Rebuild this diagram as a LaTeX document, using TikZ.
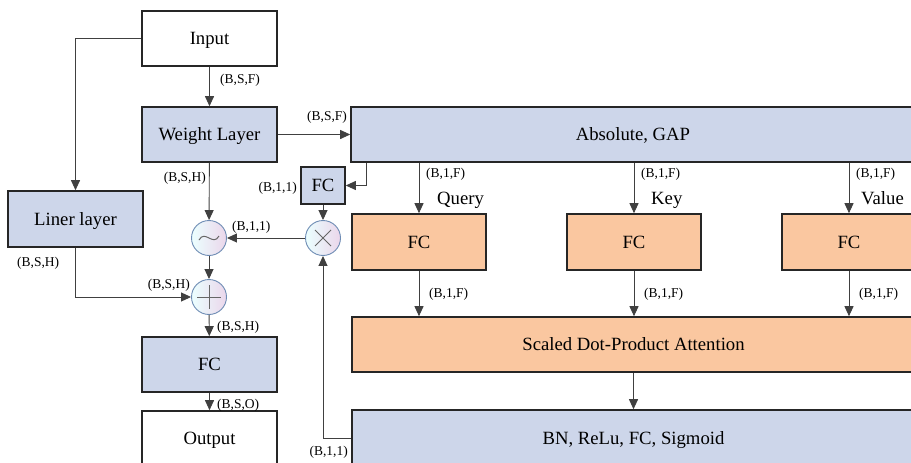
\documentclass[tikz,border=0pt]{standalone}
\usepackage{fontspec}
\setmainfont{Liberation Serif}
\usetikzlibrary{calc,arrows.meta}

\definecolor{layerblue}{RGB}{205,214,234}
\definecolor{attnorange}{RGB}{250,199,160}
\definecolor{opedge}{RGB}{110,140,180}

\begin{document}
\begin{tikzpicture}[
  x=1pt,y=-1pt,
  big text/.style={font=\rmfamily\fontsize{18.7}{22}\selectfont,text height=12.4pt,text depth=0pt},
  box/.style={big text,draw=black!85,line width=1.6pt,inner sep=0pt,minimum width=135pt,
    minimum height=55pt},
  blue box/.style={box,fill=layerblue},
  orange box/.style={box,fill=attnorange},
  op/.style={circle,draw=opedge,line width=0.9pt,minimum size=35pt,inner sep=0pt,
    left color=cyan!8,right color=violet!16},
  opsym/.style={draw=black!60,line width=1pt},
  flow/.style={draw=black!75,line width=0.9pt,-{Triangle[length=10pt,width=9pt]}},
  dims/.style={font=\rmfamily\fontsize{13.5}{16}\selectfont,inner sep=0pt},
  ]

  \useasboundingbox (0,0) rectangle (911,463);
  \clip (0,0) rectangle (911,463);

  % main path
  \node[box]      (input)  at (209.5,38.5)  {Input};
  \node[blue box] (weight) at (209.5,134.5) {Weight Layer};
  \node[blue box,minimum height=56pt] (liner) at (75.5,219) {Liner layer};
  \node[op]       (tilde)  at (209,238) {};
  \node[op]       (plus)   at (209,297) {};
  \node[blue box] (fcout)  at (209.5,364.5) {FC};
  \node[box]      (output) at (209.5,438.5) {Output};

  % attention branch
  \node[blue box,minimum width=564pt] (gap) at (633,134.5) {Absolute, GAP};
  \node[blue box,minimum width=44pt,minimum height=37pt] (fcgate) at (323,185.5) {FC};
  \node[op] (times) at (323,238) {};
  \node[orange box,minimum width=563pt] (sdpa) at (633.5,344.5) {Scaled Dot-Product Attention};
  \node[blue box,minimum width=563pt,minimum height=56pt] (bn) at (633.5,438) {BN, ReLu, FC, Sigmoid};

  \foreach \n/\x/\lab/\lx in {q/419/Query/437, k/634/Key/651, v/849/Value/861}
  {
    \node[orange box,minimum width=134pt,minimum height=56pt] (fc\n) at (\x,242) {FC};
    \draw[flow] (fc\n.north |- gap.south) -- (fc\n.north);
    \draw[flow] (fc\n.south) -- (fc\n.south |- sdpa.north);
    \node[dims,anchor=west] (in\n) at ($(fc\n.north)+(7,-39)$) {(B,1,F)};
    \node[dims,anchor=west] (out\n) at ($(fc\n.south)+(10,23)$) {(B,1,F)};
    \node[big text,anchor=west,inner sep=0pt] (name\n) at (\lx,198) {\lab};
  }

  % operator symbols
  \draw[opsym] ($(plus)+(-12,0)$) -- ($(plus)+(12,0)$) ($(plus)+(0,-12)$) -- ($(plus)+(0,12)$);
  \draw[opsym] ($(times)+(-8,-8)$) -- ($(times)+(8,8)$) ($(times)+(-8,8)$) -- ($(times)+(8,-8)$);
  \draw[opsym] ($(tilde)+(-10,2)$) .. controls ($(tilde)+(-4,-9)$) and ($(tilde)+(4,9)$) .. ($(tilde)+(10,-2)$);

  % connectors
  \draw[flow] (input) -- (weight);
  \draw[flow] (input.west) -| (liner.north);
  \draw[flow] (weight.east) -- (weight.east -| gap.west);
  \draw[flow] (weight) -- (tilde);
  \draw[flow] (tilde) -- (plus);
  \draw[flow] (liner.south) |- (plus.west);
  \draw[flow] (plus) -- (fcout);
  \draw[flow] (fcout) -- (output);
  \draw[flow] ($(gap.south west)+(16,0)$) |- (fcgate.east);
  \draw[flow] (fcgate) -- (times);
  \draw[flow] (times) -- (tilde);
  \draw[flow] (bn.west) -| (times.south);
  \draw[flow] (sdpa) -- (bn);

  % tensor shapes
  \node[dims,anchor=west] (dimin)    at (220,80)  {(B,S,F)};
  \node[dims,anchor=west] (dimgap)   at (307,117) {(B,S,F)};
  \node[dims,anchor=east] (dimw)     at (206,178) {(B,S,H)};
  \node[dims,anchor=west] (dimliner) at (17,263)  {(B,S,H)};
  \node[dims,anchor=east] (dimres)   at (190,285) {(B,S,H)};
  \node[dims,anchor=east] (dimgate)  at (297,188) {(B,1,1)};
  \node[dims,anchor=west] (dimscale) at (232,227) {(B,1,1)};
  \node[dims,anchor=west] (dimsum)   at (217,327) {(B,S,H)};
  \node[dims,anchor=west] (dimout)   at (217,405) {(B,S,O)};
  \node[dims,anchor=east] (dimbn)    at (348,452) {(B,1,1)};

\end{tikzpicture}
\end{document}
